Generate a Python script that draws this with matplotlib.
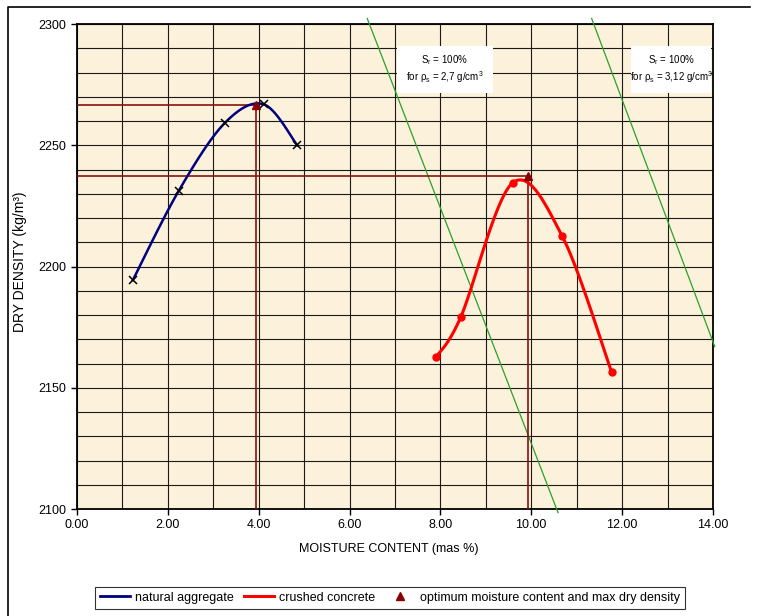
import numpy as np
import matplotlib.pyplot as plt
from matplotlib.lines import Line2D
from matplotlib.patches import Rectangle

plt.rcParams['font.family'] = ['Liberation Sans', 'DejaVu Sans']
plt.rcParams['mathtext.fontset'] = 'custom'
plt.rcParams['mathtext.rm'] = 'Liberation Sans'
plt.rcParams['mathtext.it'] = 'Liberation Sans:italic'

# compaction test results
natural_w = [1.23, 2.24, 3.25, 4.11, 4.85]
natural_rho = [2194.4, 2231.2, 2259.1, 2266.9, 2250.0]
crushed_w = [7.91, 8.45, 9.59, 10.68, 11.77]
crushed_rho = [2162.7, 2179.2, 2234.5, 2212.6, 2156.5]

# optimum moisture content / max dry density
opt_w = [3.95, 9.93]
opt_rho = [2266.8, 2237.5]

# zero air voids lines (Sr = 100%)
sat1_w = [6.39, 10.59]
sat1_rho = [2302.3, 2098.5]
sat2_w = [11.33, 14.04]
sat2_rho = [2302.3, 2167.0]

x_ticks = [0, 2, 4, 6, 8, 10, 12, 14]
y_ticks = [2100, 2150, 2200, 2250, 2300]


def smooth(x, y, n=30):
    # Catmull-Rom style bezier, like the spreadsheet "smoothed line"
    x = np.asarray(x, float)
    y = np.asarray(y, float)
    p = np.column_stack([x, y])
    out = [p[0]]
    for i in range(len(p) - 1):
        p0 = p[i - 1] if i > 0 else p[i]
        p3 = p[i + 2] if i + 2 < len(p) else p[i + 1]
        c1 = p[i] + (p[i + 1] - p0) / 6
        c2 = p[i + 1] - (p3 - p[i]) / 6
        t = np.linspace(0, 1, n)[1:, None]
        seg = ((1 - t) ** 3 * p[i] + 3 * (1 - t) ** 2 * t * c1
               + 3 * (1 - t) * t ** 2 * c2 + t ** 3 * p[i + 1])
        out.extend(seg)
    out = np.array(out)
    return out[:, 0], out[:, 1]


fig = plt.figure(figsize=(7.62, 6.16), dpi=100)
ax = fig.add_axes([0.101, 0.1737, 0.8346, 0.7873])
ax.set_facecolor('#fcf1da')

ax.set_xlim(0, 14)
ax.set_ylim(2100, 2300)
ax.set_xticks(x_ticks)
ax.set_xticklabels(['%.2f' % v for v in x_ticks])
ax.set_yticks(y_ticks)
ax.set_xticks(np.arange(0, 15, 1), minor=True)
ax.set_yticks(np.arange(2100, 2301, 10), minor=True)
ax.tick_params(which='major', direction='out', length=4, width=1,
               labelsize=9, color='black')
ax.tick_params(which='minor', length=0)
ax.grid(which='both', color='#1a1a1a', lw=0.8)
ax.set_axisbelow(True)
for s in ax.spines.values():
    s.set_linewidth(1.3)

# saturation lines
ax.plot(sat1_w, sat1_rho, color='#2ca02c', lw=0.9, clip_on=False, zorder=3)
ax.plot(sat2_w, sat2_rho, color='#2ca02c', lw=0.9, clip_on=False, zorder=3)

# optimum guide lines
for w, r in zip(opt_w, opt_rho):
    ax.plot([0, w], [r, r], color='#8b1010', lw=1.2, zorder=3)
    ax.plot([w, w], [2100, r], color='#8b1010', lw=1.2, zorder=3)

sx, sy = smooth(natural_w, natural_rho)
ax.plot(sx, sy, color='#000080', lw=1.8, zorder=4)
ax.plot(natural_w, natural_rho, 'x', color='black', ms=6, mew=1.1, zorder=5)

sx, sy = smooth(crushed_w, crushed_rho)
ax.plot(sx, sy, color='#ff0000', lw=2.2, zorder=4)
ax.plot(crushed_w, crushed_rho, 'o', color='#ff0000', ms=5, zorder=5)

ax.plot(opt_w, opt_rho, '^', color='#8b0000', ms=6, ls='none', zorder=6)

# Sr = 100% notes
notes = [(7.04, 9.15, '2,7'), (12.2, 13.96, '3,12')]
for x0, x1, rho_s in notes:
    ax.add_patch(Rectangle((x0, 2271.6), x1 - x0, 19.3, facecolor='white',
                           edgecolor='none', zorder=7))
    xc = (x0 + x1) / 2
    ax.text(xc, 2285.3, r'S$_\mathrm{r}$ = 100%', fontsize=7,
            ha='center', va='center', zorder=8)
    ax.text(xc, 2278.0, r'for ρ$_\mathrm{s}$ = ' + rho_s + r' g/cm$^\mathrm{3}$',
            fontsize=7, ha='center', va='center', zorder=8)

fig.text(20 / 762, 1 - 262 / 616, 'DRY DENSITY (kg/m³)', rotation=90,
         ha='center', va='center', fontsize=10)
fig.text(0.51, 1 - 549 / 616, 'MOISTURE CONTENT (mas %)',
         ha='center', va='center', fontsize=9)

handles = [Line2D([], [], color='#000080', lw=2),
           Line2D([], [], color='#ff0000', lw=2.2),
           Line2D([], [], color='#8b0000', marker='^', ls='none', ms=6)]
labels = ['natural aggregate', 'crushed concrete',
          'optimum moisture content and max dry density']
leg = fig.legend(handles, labels, loc='lower center', ncol=3, fontsize=9,
                 bbox_to_anchor=(0.512, 0.002), frameon=True, fancybox=False,
                 edgecolor='black', handlelength=2.4, handletextpad=0.4,
                 columnspacing=0.8, borderpad=0.4)
leg.get_frame().set_linewidth(0.8)

# outer frame
fig.add_artist(Line2D([8 / 762, 8 / 762, 750 / 762],
                      [0, 1 - 7 / 616, 1 - 7 / 616],
                      transform=fig.transFigure, color='black', lw=1.2))

fig.savefig('out.png', dpi=100)
